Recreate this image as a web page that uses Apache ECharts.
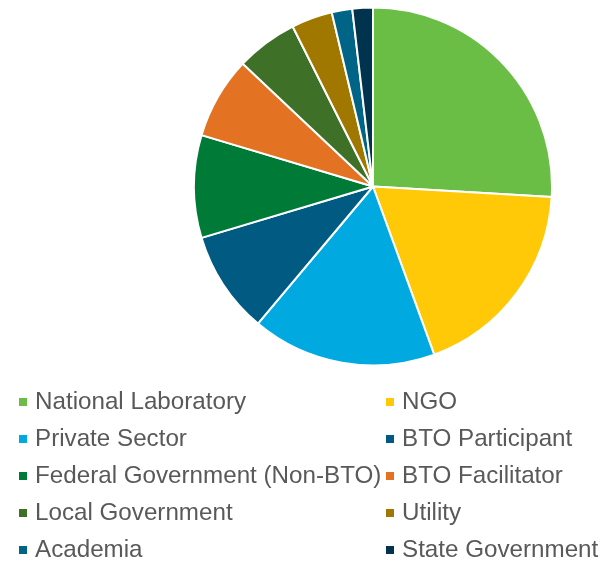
<!DOCTYPE html>
<html>
<head>
<meta charset="utf-8">
<script src="https://cdn.jsdelivr.net/npm/echarts@6/dist/echarts.min.js"></script>
<style>
  html, body { margin: 0; padding: 0; background: #ffffff; }
  #chart { width: 603px; height: 566px; }
</style>
</head>
<body>
<div id="chart"></div>
<script>
// Respondents by organization type
const categories = [
  'National Laboratory', 'NGO', 'Private Sector', 'BTO Participant',
  'Federal Government (Non-BTO)', 'BTO Facilitator', 'Local Government',
  'Utility', 'Academia', 'State Government'
];
const counts = [14, 10, 9, 5, 5, 4, 3, 2, 1, 1];
const colors = [
  '#6abd45', '#ffc907', '#00a9e0', '#005a82', '#007a37',
  '#e37222', '#3e7028', '#a07800', '#006487', '#00344e'
];

const chart = echarts.init(document.getElementById('chart'), null, { renderer: 'canvas' });

const legendText = {
  fontFamily: 'Liberation Sans, Arial, sans-serif',
  fontSize: 24.2,
  color: '#595959',
  padding: [0, 0, 0, 2]
};
const leftCol = categories.filter((_, i) => i % 2 === 0);
const rightCol = categories.filter((_, i) => i % 2 === 1);

function legendColumn(names, left) {
  return {
    data: names,
    orient: 'vertical',
    left: left,
    top: 390,
    icon: 'rect',
    itemWidth: 10,
    itemHeight: 10,
    itemGap: 13,
    padding: 0,
    selectedMode: false,
    textStyle: legendText
  };
}

chart.setOption({
  animation: false,
  color: colors,
  legend: [legendColumn(leftCol, 17), legendColumn(rightCol, 384)],
  series: [{
    type: 'pie',
    center: [373, 186.5],
    radius: 179,
    startAngle: 90,
    clockwise: true,
    label: { show: false },
    labelLine: { show: false },
    emphasis: { disabled: true },
    itemStyle: { borderColor: '#ffffff', borderWidth: 2 },
    data: categories.map((name, i) => ({ name: name, value: counts[i] }))
  }]
});
</script>
</body>
</html>
